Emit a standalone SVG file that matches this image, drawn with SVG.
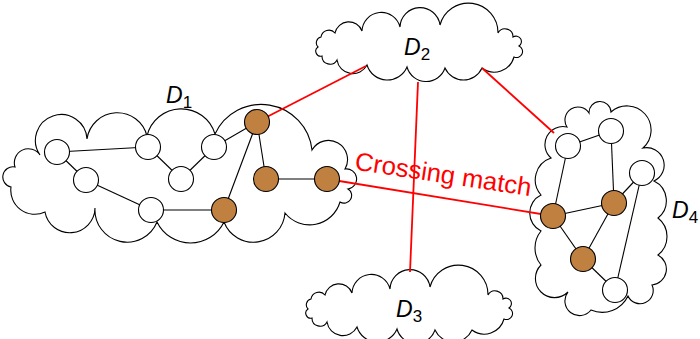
<svg xmlns="http://www.w3.org/2000/svg" xmlns:xlink="http://www.w3.org/1999/xlink" width="700" height="339" viewBox="0 0 700 339">
  <defs>
    <style>
      .cloud { fill: #ffffff; stroke: #000000; stroke-width: 1.1; stroke-linejoin: miter; }
      .edge { stroke: #000000; stroke-width: 1.1; fill: none; }
      .match { stroke: #ff0000; stroke-width: 1.8; fill: none; }
      .v { stroke: #000000; stroke-width: 1.1; }
      .w { fill: #ffffff; }
      .b { fill: #bf8040; }
      .lbl { font-family: "Liberation Sans", Arial, sans-serif; font-size: 23px; font-style: italic; fill: #000000; }
      .sub { font-style: normal; font-size: 17px; }
      .red { font-family: "Liberation Sans", Arial, sans-serif; font-size: 25.5px; fill: #ff0000; }
    </style>
    <!-- horizontal cloud shared by D2 and D3 -->
    <path id="hcloud" d="M322,56 A5,5 0 0 1 318,47 A6,6 0 0 1 321,37 A8,8 0 0 1 335,33 A14.1,14.1 0 0 1 362,31 A19.3,19.3 0 0 1 400,27 A20.1,20.1 0 0 1 440,25 A29.5,29.5 0 0 1 498,33 A8,8 0 0 1 513,37 A5,5 0 0 1 519,46 A6,6 0 0 1 514,57 A20.5,20.5 0 0 1 482,68 A20.3,20.3 0 0 1 445,68 A19.9,19.9 0 0 1 407,67 A21.3,21.3 0 0 1 367,65 A16,16 0 0 1 337,60 A8,8 0 0 1 322,56 Z"/>
  </defs>

  <!-- domain clouds -->
  <g id="D1">
    <path class="cloud" d="M40,155 A14,14 0 0 0 15,167 A10,10 0 0 0 11,187 A24,24 0 0 0 45,212 A25.2,25.2 0 0 0 95,208 A32.2,32.2 0 0 0 157,222 A37.2,37.2 0 0 0 224,222 A31.6,31.6 0 0 0 285,213 A31.6,31.6 0 0 0 340,202 A7,7 0 0 0 348,189 A10,10 0 0 0 345,169 A19,19 0 0 0 312,150 A51,51 0 0 0 215,134 A35.2,35.2 0 0 0 147,136 A30.6,30.6 0 0 0 87,139 A25.8,25.8 0 1 0 40,155 Z"/>
  </g>
  <g id="D2">
    <use xlink:href="#hcloud" href="#hcloud" class="cloud"/>
  </g>
  <g id="D3">
    <use xlink:href="#hcloud" href="#hcloud" class="cloud" transform="translate(-10,262)"/>
  </g>
  <g id="D4">
    <path class="cloud" d="M551,158 A18,18 0 0 1 567,127 A13,13 0 0 1 589,113 A11,11 0 0 1 611,112 A24,24 0 0 1 643,148 A17.5,17.5 0 0 1 654,181 A22,22 0 0 1 658,218 A23.5,23.5 0 0 1 658,255 A16,16 0 0 1 652,285 A13.2,13.2 0 0 1 628,296 A28.5,28.5 0 0 1 591,310 A12.5,12.5 0 0 1 568,292 A19,19 0 0 1 541,265 A27,27 0 0 1 541,231 A20,20 0 0 1 541,195 A23,23 0 0 1 551,158 Z"/>
  </g>

  <!-- connectors -->
  <g id="connectors">
    <!-- edges inside D1 -->
    <line class="edge" x1="57" y1="152" x2="148" y2="147"/>
    <line class="edge" x1="57" y1="152" x2="86" y2="180"/>
    <line class="edge" x1="86" y1="180" x2="151" y2="210"/>
    <line class="edge" x1="151" y1="210" x2="224" y2="210"/>
    <line class="edge" x1="148" y1="147" x2="181" y2="179"/>
    <line class="edge" x1="181" y1="179" x2="214" y2="147"/>
    <line class="edge" x1="214" y1="147" x2="257" y2="122"/>
    <line class="edge" x1="257" y1="122" x2="224" y2="210"/>
    <line class="edge" x1="257" y1="122" x2="266" y2="179"/>
    <line class="edge" x1="266" y1="179" x2="327" y2="179"/>
    <!-- edges inside D4 -->
    <line class="edge" x1="568" y1="146" x2="611" y2="131"/>
    <line class="edge" x1="568" y1="146" x2="553" y2="216"/>
    <line class="edge" x1="611" y1="131" x2="614" y2="203"/>
    <line class="edge" x1="614" y1="203" x2="642" y2="173"/>
    <line class="edge" x1="642" y1="173" x2="615" y2="290"/>
    <line class="edge" x1="553" y1="216" x2="614" y2="203"/>
    <line class="edge" x1="553" y1="216" x2="583" y2="259"/>
    <line class="edge" x1="583" y1="259" x2="614" y2="203"/>
    <line class="edge" x1="583" y1="259" x2="615" y2="290"/>
    <!-- matches between domains -->
    <line class="match" x1="257" y1="122" x2="366" y2="66"/>
    <line class="match" x1="482" y1="68" x2="554" y2="133"/>
    <line class="match" x1="418" y1="82" x2="410" y2="272"/>
    <line class="match" x1="327" y1="179" x2="553" y2="216"/>
  </g>

  <!-- vertices of D1 -->
  <g id="n1"><circle class="v w" cx="57" cy="152" r="12.5"/></g>
  <g id="n2"><circle class="v w" cx="86" cy="180" r="12.5"/></g>
  <g id="n3"><circle class="v w" cx="148" cy="147" r="12.5"/></g>
  <g id="n4"><circle class="v w" cx="181" cy="179" r="12.5"/></g>
  <g id="n5"><circle class="v w" cx="214" cy="147" r="12.5"/></g>
  <g id="n6"><circle class="v w" cx="151" cy="210" r="12.5"/></g>
  <g id="n7"><circle class="v b" cx="257" cy="122" r="12.5"/></g>
  <g id="n8"><circle class="v b" cx="266" cy="179" r="12.5"/></g>
  <g id="n9"><circle class="v b" cx="327" cy="179" r="12.5"/></g>
  <g id="n10"><circle class="v b" cx="224" cy="210" r="12.5"/></g>

  <!-- vertices of D4 -->
  <g id="m1"><circle class="v w" cx="568" cy="146" r="12.5"/></g>
  <g id="m2"><circle class="v w" cx="611" cy="131" r="12.5"/></g>
  <g id="m3"><circle class="v w" cx="642" cy="173" r="12.5"/></g>
  <g id="m4"><circle class="v b" cx="614" cy="203" r="12.5"/></g>
  <g id="m5"><circle class="v b" cx="553" cy="216" r="12.5"/></g>
  <g id="m6"><circle class="v b" cx="583" cy="259" r="12.5"/></g>
  <g id="m7"><circle class="v w" cx="615" cy="290" r="12.5"/></g>

  <!-- labels -->
  <text class="lbl" x="166" y="103">D<tspan class="sub" dy="5">1</tspan></text>
  <text class="lbl" x="404" y="55">D<tspan class="sub" dy="5">2</tspan></text>
  <text class="lbl" x="396" y="317">D<tspan class="sub" dy="5">3</tspan></text>
  <text class="lbl" x="672" y="218">D<tspan class="sub" dy="5">4</tspan></text>
  <text class="red" x="354" y="169.5" textLength="178" lengthAdjust="spacingAndGlyphs" transform="rotate(8.6 354 169.5)">Crossing match</text>
</svg>
